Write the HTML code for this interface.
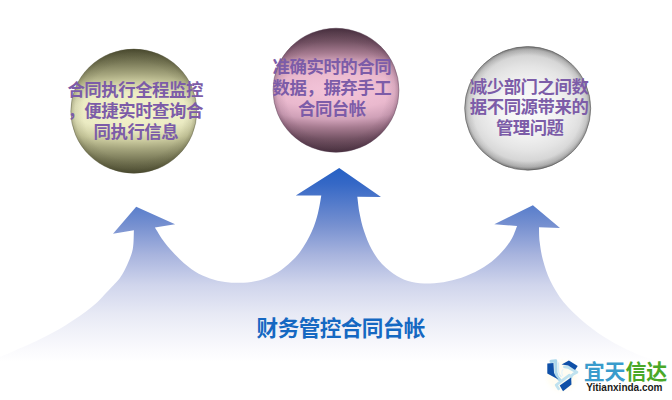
<!DOCTYPE html>
<html lang="zh"><head><meta charset="utf-8"><title>财务管控合同台帐</title>
<style>
html,body{margin:0;padding:0;background:#fff}
body{width:672px;height:400px;overflow:hidden;position:relative;font-family:"Liberation Sans",sans-serif}
.t{position:absolute;margin:0;color:transparent;text-align:center;white-space:nowrap;font-weight:bold;overflow:hidden}
.b{font-size:17px;line-height:20.6px;width:140px}
</style></head><body>
<svg width="672" height="400" viewBox="0 0 672 400" style="position:absolute;left:0;top:0">
<defs>
<filter id="bl" x="-30%" y="-30%" width="160%" height="160%"><feGaussianBlur stdDeviation="2"/></filter>
<linearGradient id="ga" gradientUnits="userSpaceOnUse" x1="0" y1="168" x2="0" y2="362">
<stop offset="0" stop-color="#2560c4"/>
<stop offset="0.08" stop-color="#3568c6"/>
<stop offset="0.294" stop-color="#7690d0"/>
<stop offset="0.448" stop-color="#a8b4de"/>
<stop offset="0.603" stop-color="#d0d5ec"/>
<stop offset="0.758" stop-color="#e8eaf5"/>
<stop offset="0.912" stop-color="#f8f8fc"/>
<stop offset="1" stop-color="#ffffff"/>
</linearGradient>
<radialGradient id="g1" gradientUnits="userSpaceOnUse" cx="0" cy="0" r="62.4" gradientTransform="translate(133.8 111.15) scale(3.2 1)">
<stop offset="0" stop-color="#f4f4cc"/>
<stop offset="0.3" stop-color="#ebebc3"/>
<stop offset="0.47" stop-color="#cbcb9f"/>
<stop offset="0.6" stop-color="#a6a67e"/>
<stop offset="0.78" stop-color="#7a7a58"/>
<stop offset="1" stop-color="#4d4d33"/>
</radialGradient>
<radialGradient id="r1" gradientUnits="userSpaceOnUse" cx="0" cy="0" r="62.2" gradientTransform="translate(133.8 111.15) scale(1.014 1)">
<stop offset="0.8" stop-color="#3c3c20" stop-opacity="0"/>
<stop offset="0.93" stop-color="#3c3c20" stop-opacity="0.1"/>
<stop offset="1" stop-color="#3c3c20" stop-opacity="0.3"/>
</radialGradient>
<radialGradient id="g2" gradientUnits="userSpaceOnUse" cx="0" cy="0" r="62.4" gradientTransform="translate(336 90.25) scale(3.2 1)">
<stop offset="0" stop-color="#f4c5da"/>
<stop offset="0.3" stop-color="#eab9ce"/>
<stop offset="0.47" stop-color="#d0a1b8"/>
<stop offset="0.6" stop-color="#a67b90"/>
<stop offset="0.78" stop-color="#745364"/>
<stop offset="1" stop-color="#4a3440"/>
</radialGradient>
<radialGradient id="r2" gradientUnits="userSpaceOnUse" cx="0" cy="0" r="62.2" gradientTransform="translate(336 90.25) scale(1.014 1)">
<stop offset="0.8" stop-color="#40203a" stop-opacity="0"/>
<stop offset="0.93" stop-color="#40203a" stop-opacity="0.1"/>
<stop offset="1" stop-color="#40203a" stop-opacity="0.3"/>
</radialGradient>
<radialGradient id="g3" gradientUnits="userSpaceOnUse" cx="0" cy="0" r="62.2" gradientTransform="translate(527.7 108.35) scale(1.18 1)">
<stop offset="0" stop-color="#fbfbfb"/>
<stop offset="0.4" stop-color="#f3f3f3"/>
<stop offset="0.52" stop-color="#ededed"/>
<stop offset="0.68" stop-color="#e4e4e4"/>
<stop offset="0.84" stop-color="#d6d6d6"/>
<stop offset="0.94" stop-color="#bcbcbc"/>
<stop offset="1" stop-color="#959595"/>
</radialGradient>
<radialGradient id="r3" gradientUnits="userSpaceOnUse" cx="0" cy="0" r="62" gradientTransform="translate(527.7 108.35) scale(1.019 1)">
<stop offset="0.86" stop-color="#404040" stop-opacity="0"/>
<stop offset="0.95" stop-color="#404040" stop-opacity="0.12"/>
<stop offset="1" stop-color="#404040" stop-opacity="0.42"/>
</radialGradient>
</defs>
<path d="M0,356.7 C2.2,355.8 6.4,354.2 13.0,351.4 C19.6,348.5 30.6,344.0 39.4,339.6 C48.2,335.2 56.9,330.7 65.7,325.2 C74.5,319.7 84.6,312.9 92.0,306.8 C99.4,300.7 105.6,293.3 110.3,288.4 C115.0,283.5 117.6,281.1 120.4,277.2 C123.2,273.3 125.1,269.5 127.2,264.8 C129.3,260.1 131.7,254.8 132.8,249.0 C133.9,243.2 133.7,233.4 133.9,230.3 L113,233.7 L136.2,206.7 L175.1,224.3 L154.9,227.6 C156.6,230.2 160.8,237.7 165.0,243.0 C169.2,248.3 175.0,254.8 180.0,259.5 C185.0,264.2 190.0,268.4 195.0,271.5 C200.0,274.6 205.0,276.6 210.0,278.4 C215.0,280.1 220.0,281.3 225.0,282.0 C230.0,282.7 235.0,282.9 240.0,282.8 C245.0,282.7 250.0,282.4 255.0,281.3 C260.0,280.2 265.0,278.9 270.0,276.5 C275.0,274.1 280.0,271.1 285.0,267.0 C290.0,262.9 295.5,258.0 300.0,252.0 C304.5,246.0 309.0,237.5 312.0,231.0 C315.0,224.5 316.4,218.9 318.0,213.0 C319.6,207.1 320.8,198.5 321.3,195.6 L295.8,195.6 L339.2,167.9 L381,197.1 L357.3,196.8 C357.7,199.5 358.4,207.3 359.5,213.0 C360.6,218.7 362.0,225.0 364.0,231.0 C366.0,237.0 368.5,243.5 371.5,249.0 C374.5,254.5 377.8,259.5 382.0,264.0 C386.2,268.5 392.0,273.0 397.0,276.0 C402.0,279.0 406.5,280.8 412.0,282.0 C417.5,283.2 424.0,283.6 430.0,283.5 C436.0,283.4 442.0,282.6 448.0,281.3 C454.0,280.1 460.0,278.4 466.0,276.0 C472.0,273.6 478.5,270.5 484.0,267.0 C489.5,263.5 494.5,259.5 499.0,255.0 C503.5,250.5 508.0,244.8 511.0,240.0 C514.0,235.2 516.1,228.2 517.1,225.9 L494.3,224.3 L532.9,205.2 L560,228.1 L539,227.2 C539.1,229.7 539.0,236.8 539.7,242.3 C540.4,247.8 541.2,253.9 543.0,260.3 C544.8,266.8 547.0,274.1 550.4,281.0 C553.8,287.9 558.2,295.4 563.5,302.0 C568.8,308.6 575.4,314.7 582.0,320.4 C588.6,326.1 596.0,331.6 603.0,336.2 C610.0,340.8 617.5,344.7 624.0,348.0 C630.5,351.3 634.0,353.0 642.0,356.0 C650.0,359.0 667.0,364.3 672.0,366.0 L672,400 L0,400 Z" fill="url(#ga)"/>
<ellipse cx="133.8" cy="111.15" rx="63" ry="62.1" fill="url(#g1)" stroke="#55553c" stroke-opacity="0.5" stroke-width="0.8"/>
<ellipse cx="133.8" cy="111.15" rx="63" ry="62.1" fill="url(#r1)"/>
<ellipse cx="336" cy="90.25" rx="63" ry="62.1" fill="url(#g2)" stroke="#5a4454" stroke-opacity="0.5" stroke-width="0.8"/>
<ellipse cx="336" cy="90.25" rx="63" ry="62.1" fill="url(#r2)"/>
<ellipse cx="527.7" cy="108.35" rx="63" ry="61.8" fill="url(#g3)" stroke="#686868" stroke-opacity="0.75" stroke-width="0.9"/>
<ellipse cx="527.7" cy="108.35" rx="63" ry="61.8" fill="url(#r3)"/>
<g font-family="&quot;Liberation Sans&quot;, &quot;Noto Sans CJK SC&quot;, sans-serif" font-weight="bold" font-size="17.4" fill="#7c5ca8">
<text x="67.4" y="96.3" textLength="136" lengthAdjust="spacing">合同执行全程监控</text>
<text x="67.4" y="117" textLength="136" lengthAdjust="spacing">，便捷实时查询合</text>
<text x="93.6" y="137.7" textLength="85" lengthAdjust="spacing">同执行信息</text>
<text x="272.6" y="73.3" textLength="119" lengthAdjust="spacing">准确实时的合同</text>
<text x="272.6" y="93.9" textLength="119" lengthAdjust="spacing">数据，摒弃手工</text>
<text x="298.1" y="114.5" textLength="68" lengthAdjust="spacing">合同台帐</text>
<text x="469.8" y="92.8" textLength="119" lengthAdjust="spacing">减少部门之间数</text>
<text x="469.8" y="113.4" textLength="119" lengthAdjust="spacing">据不同源带来的</text>
<text x="495.9" y="134" textLength="68" lengthAdjust="spacing">管理问题</text>
</g>
<text x="256.6" y="335.8" textLength="168.8" lengthAdjust="spacing" font-family="&quot;Liberation Sans&quot;, &quot;Noto Sans CJK SC&quot;, sans-serif" font-weight="bold" font-size="21.6" fill="#1568c2">财务管控合同台帐</text>
<text x="583.8" y="378.8" textLength="41.7" lengthAdjust="spacing" font-family="&quot;Liberation Sans&quot;, &quot;Noto Sans CJK SC&quot;, sans-serif" font-weight="bold" font-size="21" fill="#3a9ccc">宜天</text>
<text x="625.5" y="378.8" textLength="41.7" lengthAdjust="spacing" font-family="&quot;Liberation Sans&quot;, &quot;Noto Sans CJK SC&quot;, sans-serif" font-weight="bold" font-size="21" fill="#4aa828">信达</text>
<g>
<circle cx="562" cy="376" r="15" fill="#fffbe6" opacity="0.55" filter="url(#bl)"/>
<g fill="none" stroke-linejoin="round" stroke-linecap="round">
<path d="M551,361.4 L555.7,360.9 L555.9,372.5 Q556.4,377 560.2,380.3" stroke="#acd7eb" stroke-width="3.1"/>
<path d="M558.4,363 L558.5,371.5 Q559,374.6 561,376.6" stroke="#d9eef7" stroke-width="1.4"/>
<path d="M564.5,366.9 L568,367.3 L576.9,372.3 L573,374.3 Q571,375.6 570.7,378" stroke="#bfe2ef" stroke-width="2.8"/>
<path d="M569.5,375.2 L562,380.6 L556.2,385 L558.6,388.8" stroke="#bfe2ef" stroke-width="2.8"/>
<path d="M563,369.6 Q560.8,371.8 562.6,375.4" stroke="#e6f4fa" stroke-width="1.2"/>
</g>
<path d="M547.3,363.5 L553.5,362.9 L554,372.7 Q555.2,376.6 558.4,379.5 L547.3,373.6Z" fill="#0f50a8"/>
<path d="M561.6,364.6 L568.9,360.6 L577.7,366 L575.1,370.1 L568.2,365.6Z" fill="#0f50a8"/>
<path d="M559.7,385.5 L571.1,377.4 L571.5,384.5 L563,391.2Z" fill="#0f50a8"/>
</g>
<text x="586.2" y="391.2" font-family="&quot;Liberation Sans&quot;, sans-serif" font-weight="bold" font-size="10" fill="#1a1a1a">Yitianxinda.com</text>
</svg>
<p class="t b" style="left:65.8px;top:78px">合同执行全程监控<br>，便捷实时查询合<br>同执行信息</p>
<p class="t b" style="left:262.5px;top:55px">准确实时的合同<br>数据，摒弃手工<br>合同台帐</p>
<p class="t b" style="left:459.7px;top:74.5px">减少部门之间数<br>据不同源带来的<br>管理问题</p>
<h1 class="t" style="left:251px;top:314px;width:181px;font-size:21px;line-height:26px">财务管控合同台帐</h1>
<p class="t" style="left:584px;top:358px;width:86px;font-size:20.8px;line-height:24px">宜天信达</p>
<p class="t" style="left:584px;top:381px;width:86px;font-size:10px;line-height:12px">Yitianxinda.com</p>

</body></html>
